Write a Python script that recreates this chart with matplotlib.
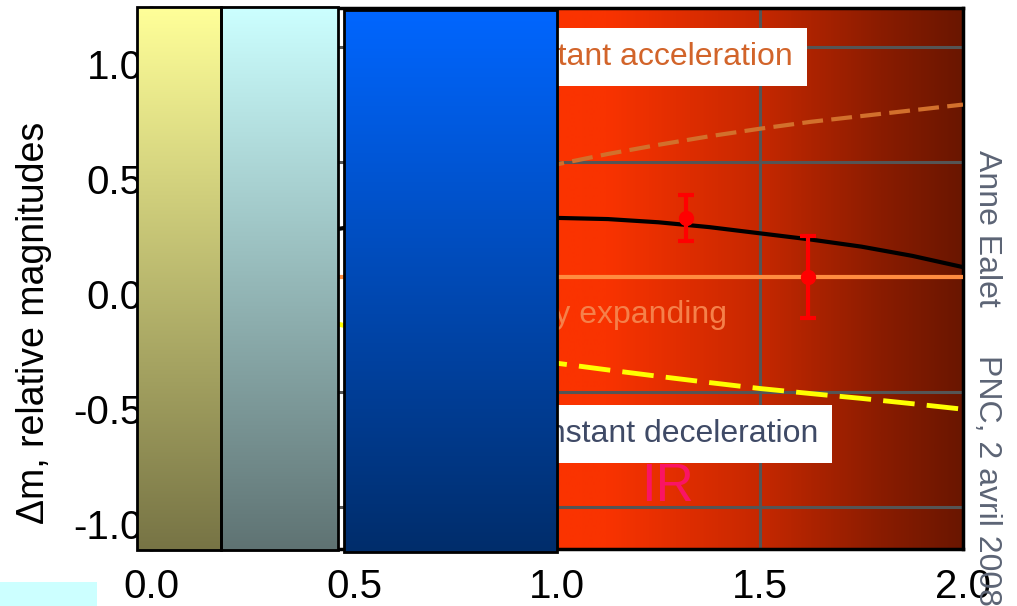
import matplotlib
matplotlib.use("Agg")
import matplotlib.pyplot as plt
import matplotlib.transforms as mtransforms
from matplotlib.colors import LinearSegmentedColormap, to_rgb
from matplotlib.patches import Rectangle
import numpy as np

plt.rcParams["font.family"] = ["Liberation Sans", "DejaVu Sans"]
plt.rcParams["axes.unicode_minus"] = False

# redshift grid for the model curves
z = [0.0, 0.125, 0.25, 0.375, 0.5, 0.625, 0.75, 0.875, 1.0,
     1.125, 1.25, 1.375, 1.5, 1.625, 1.75, 1.875, 2.0]
dm_accel = [0.0, 0.085, 0.16, 0.225, 0.285, 0.345, 0.40, 0.448, 0.49,
            0.535, 0.575, 0.612, 0.645, 0.675, 0.70, 0.725, 0.75]
dm_fit = [0.0, 0.08, 0.14, 0.185, 0.22, 0.243, 0.255, 0.259, 0.257,
          0.252, 0.238, 0.217, 0.19, 0.163, 0.132, 0.092, 0.043]
dm_coast = [0.0] * len(z)
dm_decel = [0.0, -0.06, -0.12, -0.172, -0.22, -0.265, -0.305, -0.342, -0.375,
            -0.404, -0.432, -0.459, -0.485, -0.507, -0.528, -0.551, -0.575]

# high-z supernovae with error bars
sn_z = [1.318, 1.617]
sn_dm = [0.255, 0.0]
sn_err = [0.10, 0.18]

# filter bands (redshift ranges) drawn as shaded columns
band_lo = [-0.0345, 0.172, 0.475]
band_hi = [0.172, 0.461, 1.0]
band_top = [1.174, 1.174, 1.161]
band_bot = [-1.187, -1.187, -1.196]
band_colors = [("#FFFF99", "#777445"), ("#CCFFFF", "#5F7373"), ("#0066FF", "#002D6B")]
ir_range = [1.0, 2.0]

xticks = [0.0, 0.5, 1.0, 1.5, 2.0]
yticks = [-1.0, -0.5, 0.0, 0.5, 1.0]

fig = plt.figure(figsize=(10.17, 6.06), dpi=100)
ax = fig.add_axes([151 / 1017, 57 / 606, 812 / 1017, 541 / 606])
ax.set_axisbelow(True)

ylo, yhi = -1.183, 1.17

# IR band: horizontal red-to-brown gradient behind the curves
ir_cmap = LinearSegmentedColormap.from_list(
    "ir", [(0.0, "#FB3300"), (0.12, "#F93300"), (0.5, "#C62800"),
           (0.8, "#8A1C00"), (1.0, "#6A1600")])
ax.imshow(np.linspace(0, 1, 400)[None, :], cmap=ir_cmap, aspect="auto",
          extent=[ir_range[0], ir_range[1], ylo, yhi], zorder=0.2,
          interpolation="bilinear")

ax.grid(True, color="#555555", linewidth=2.2)
ax.plot(z, dm_accel, color="#D2702C", lw=3, dashes=(5, 2), zorder=3)
ax.plot(z, dm_coast, color="#FF8C40", lw=3, zorder=3)
ax.plot(z, dm_decel, color="#FFFF00", lw=3.5, dashes=(6.5, 2.5), zorder=3)
ax.plot(z, dm_fit, color="black", lw=3, zorder=3)
ax.errorbar(sn_z, sn_dm, yerr=sn_err, fmt="o", color="#FF0000", ms=10,
            elinewidth=3, capsize=6, capthick=3, zorder=4)

ax.text(1.581, 0.957, "constant acceleration", color="#D2642A", fontsize=23,
        ha="right", va="center", zorder=5,
        bbox=dict(boxstyle="square,pad=0.45", fc="white", ec="none"))
ax.text(1.643, -0.683, "constant deceleration", color="#3F4A66", fontsize=23,
        ha="right", va="center", zorder=5,
        bbox=dict(boxstyle="square,pad=0.45", fc="white", ec="none"))
ax.text(1.419, -0.165, "steadily expanding", color="#F5804A", fontsize=23,
        ha="right", va="center", zorder=5)
ax.text(1.271, -0.913, "IR", color="#FA1464", fontsize=38,
        ha="center", va="center", zorder=5)

# shaded filter columns on top of the plot
for lo, hi, top, bot, (c_top, c_bot) in zip(band_lo, band_hi, band_top,
                                            band_bot, band_colors):
    grad = np.linspace(0, 1, 256)[:, None, None]
    img = (1 - grad) * np.array(to_rgb(c_top)) + grad * np.array(to_rgb(c_bot))
    im = ax.imshow(img, aspect="auto", extent=[lo, hi, bot, top], zorder=10,
                   interpolation="bilinear")
    im.set_clip_on(False)
    ax.add_patch(Rectangle((lo, bot), hi - lo, top - bot, fill=False,
                           ec="black", lw=2, zorder=11, clip_on=False))

ax.set_xlim(0, 2.0)
ax.set_ylim(ylo, yhi)
ax.set_xticks(xticks)
ax.set_xticklabels([f"{v:.1f}" for v in xticks])
ax.set_yticks(yticks)
ax.set_yticklabels([f"{v:.1f}" for v in yticks])
ax.tick_params(length=0, labelsize=29, pad=6)
ax.tick_params(axis="x", pad=14)
for s in ax.spines.values():
    s.set_color("black")
    s.set_linewidth(2.5)

# y labels sit a little below their grid lines
shift = mtransforms.ScaledTranslation(0, -0.17, fig.dpi_scale_trans)
for t in ax.yaxis.get_major_ticks():
    t.label1.set_transform(t.label1.get_transform() + shift)

ax.set_ylabel("\u0394m, relative magnitudes", fontsize=27)
ax.yaxis.set_label_coords(-0.122, 0.418)

fig.text(987 / 1017, 1 - 150 / 606, "Anne Ealet", rotation=-90, ha="center",
         va="top", color="#5C6475", fontsize=23)
fig.text(987 / 1017, 1 - 355 / 606, "PNC, 2 avril 2008", rotation=-90,
         ha="center", va="top", color="#5C6475", fontsize=23)

fig.patches.append(Rectangle((0, 0), 97 / 1017, 24 / 606, fc="#CCFFFF",
                             ec="none", transform=fig.transFigure))

fig.savefig("out.png", dpi=100)
